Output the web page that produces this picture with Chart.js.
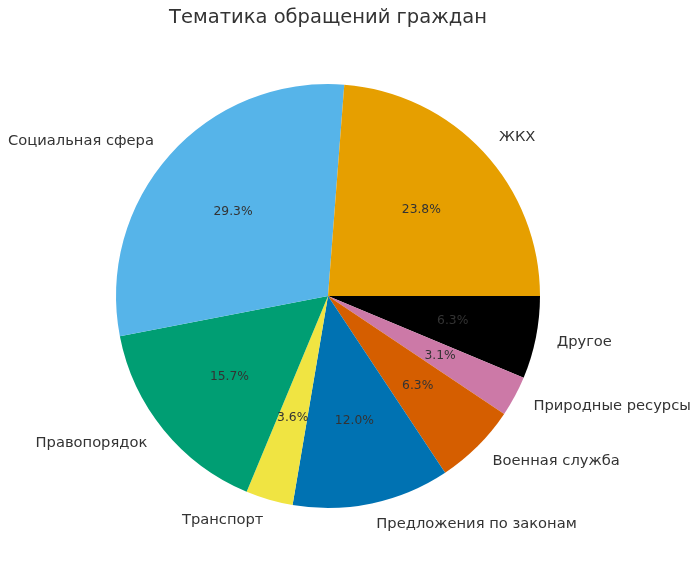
<!DOCTYPE html>
<html>
<head>
<meta charset="utf-8">
<script src="https://cdn.jsdelivr.net/npm/chart.js@4"></script>
<style>
  html, body { margin: 0; padding: 0; background: #fff; }
  #wrap { width: 700px; height: 570px; }
</style>
</head>
<body>
<div id="wrap"><canvas id="pieChart"></canvas></div>
<script>
const title = 'Тематика обращений граждан'
const categories = ['ЖКХ', 'Социальная сфера', 'Правопорядок', 'Транспорт',
    'Предложения по законам', 'Военная служба', 'Природные ресурсы', 'Другое']
const shares = [23.8, 29.3, 15.7, 3.6, 12.0, 6.3, 3.1, 6.3]
const colors = ['#E69F00', '#56B4E9', '#009E73', '#F0E442', '#0072B2', '#D55E00', '#CC79A7', '#000000']

// matplotlib goes counter-clockwise from 3 o'clock, Chart.js clockwise -> reverse order
const labels = categories.slice().reverse()
const values = shares.slice().reverse()
const bg = colors.slice().reverse()
const total = shares.reduce((a, b) => a + b, 0)

const FONT = '"DejaVu Sans", sans-serif'

const pieText = {
    id: 'pieText',
    afterDraw(chart) {
        const ctx = chart.ctx
        ctx.save()
        ctx.fillStyle = '#333333'
        ctx.textBaseline = 'middle'
        ctx.font = '19.5px ' + FONT
        ctx.textAlign = 'center'
        ctx.fillText(title, 328, 18)

        chart.getDatasetMeta(0).data.forEach((arc, i) => {
            const mid = (arc.startAngle + arc.endAngle) / 2
            const r = arc.outerRadius
            const cos = Math.cos(mid), sin = Math.sin(mid)
            ctx.font = '14.7px ' + FONT
            ctx.textAlign = cos > 0 ? 'left' : 'right'
            ctx.fillText(labels[i], arc.x + cos * r * 1.1, arc.y + sin * r * 1.1)
            ctx.font = '12.3px ' + FONT
            ctx.textAlign = 'center'
            const pct = (values[i] / total * 100).toFixed(1) + '%'
            ctx.fillText(pct, arc.x + cos * r * 0.6, arc.y + sin * r * 0.6)
        })
        ctx.restore()
    }
}

new Chart(document.getElementById('pieChart'), {
    type: 'pie',
    data: {
        labels,
        datasets: [{
            data: values,
            backgroundColor: bg,
            borderWidth: 0
        }]
    },
    options: {
        responsive: true,
        maintainAspectRatio: false,
        animation: false,
        rotation: 90,
        layout: { padding: { top: 84, bottom: 62, left: 116, right: 160 } },
        plugins: {
            legend: { display: false },
            tooltip: { enabled: false },
            title: { display: false }
        }
    },
    plugins: [pieText]
});
</script>
</body>
</html>
